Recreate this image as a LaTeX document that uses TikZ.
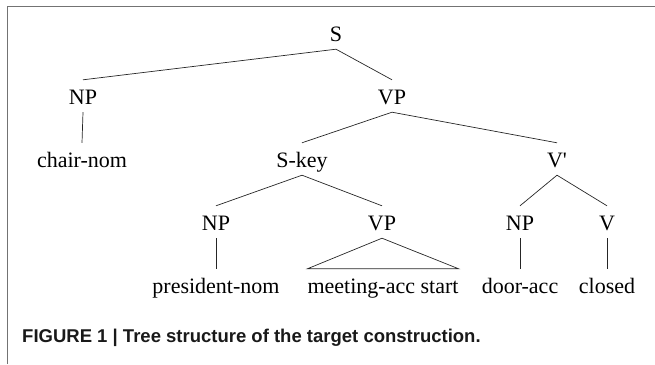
\documentclass[tikz,border=0pt]{standalone}
\usepackage{fontspec}
\setmainfont{Liberation Serif}
\newfontfamily\capfont{Liberation Sans}

\begin{document}
\begin{tikzpicture}[x=1pt,y=-1pt,
	lab/.style={anchor=base,font=\fontsize{22}{26}\selectfont,text height=16pt,text depth=0pt,inner ysep=8pt,inner xsep=0pt},
	branch/.style={line width=0.7pt,black!85}]
	\useasboundingbox (0,0) rectangle (655,364);
	\draw[line width=1pt,black!55] (7,364) -- (7,6.5) -- (655,6.5);
	\node[lab] (S) at (336,41) {S};
	\node[lab] (NPa) at (83,104) {NP};
	\node[lab] (VPa) at (392,104) {VP};
	\node[lab] (chair) at (82,167) {chair-nom};
	\node[lab] (Skey) at (302,167) {S-key};
	\node[lab] (Vbar) at (557,167) {V\textquotesingle};
	\node[lab] (NPb) at (216,230) {NP};
	\node[lab] (VPb) at (382,230) {VP};
	\node[lab] (NPc) at (520,230) {NP};
	\node[lab] (V) at (607,230) {V};
	\node[lab] (pres) at (216,293) {president-nom};
	\node[lab] (meet) at (383,293) {meeting-acc start};
	\node[lab] (door) at (520,293) {door-acc};
	\node[lab] (closed) at (607,293) {closed};
	\draw[branch] (S.south) -- (NPa.north);
	\draw[branch] (S.south) -- (VPa.north);
	\draw[branch] (NPa.south) -- (chair.north);
	\draw[branch] (VPa.south) -- (Skey.north);
	\draw[branch] (VPa.south) -- (Vbar.north);
	\draw[branch] (Skey.south) -- (NPb.north);
	\draw[branch] (Skey.south) -- (VPb.north);
	\draw[branch] (Vbar.south) -- (NPc.north);
	\draw[branch] (Vbar.south) -- (V.north);
	\draw[branch] (NPb.south) -- (pres.north);
	\draw[branch] (VPb.south) -- (meet.north west) -- (meet.north east) -- cycle;
	\draw[branch] (NPc.south) -- (door.north);
	\draw[branch] (V.south) -- (closed.north);
	\node[anchor=base west,inner sep=0pt,font=\capfont\bfseries\fontsize{18.5}{22}\selectfont,black!90] (cap) at (22,342) {FIGURE 1 | Tree structure of the target construction.};
\end{tikzpicture}
\end{document}
